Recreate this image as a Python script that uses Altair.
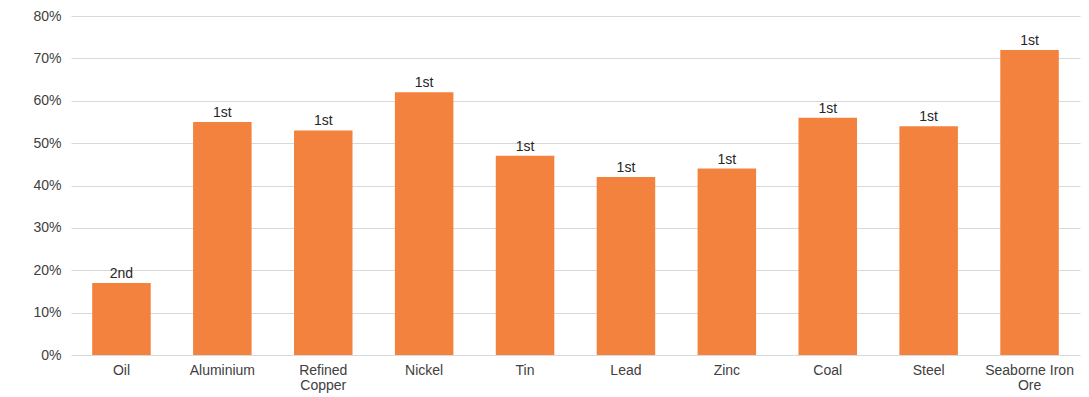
import altair as alt
import pandas as pd

categories = ["Oil", "Aluminium", "Refined\nCopper", "Nickel", "Tin", "Lead", "Zinc", "Coal", "Steel", "Seaborne Iron\nOre"]
shares = [0.17, 0.55, 0.53, 0.62, 0.47, 0.42, 0.44, 0.56, 0.54, 0.72]
ranks = ["2nd", "1st", "1st", "1st", "1st", "1st", "1st", "1st", "1st", "1st"]

df = pd.DataFrame({"cat": categories, "share": shares, "rank": ranks})

FONT = "Liberation Sans"
TXT = "#404040"

x = alt.X("cat:N", sort=categories, title=None,
          scale=alt.Scale(paddingInner=0.42, paddingOuter=0.21),
          axis=alt.Axis(labelAngle=0, labelExpr="split(datum.label, '\\n')",
                        labelFont=FONT, labelFontSize=14, labelColor=TXT,
                        labelPadding=8, labelLineHeight=15,
                        ticks=False, domain=False, grid=False))
y = alt.Y("share:Q", title=None,
          scale=alt.Scale(domain=[0, 0.8], nice=False),
          axis=alt.Axis(format=".0%", values=[0, .1, .2, .3, .4, .5, .6, .7, .8],
                        labelFont=FONT, labelFontSize=14, labelColor=TXT,
                        labelPadding=10, ticks=False, domain=False,
                        grid=True, gridColor="#d9d9d9", gridWidth=1))

base = alt.Chart(df).encode(x=x, y=y)
bars = base.mark_bar(color="#F4823F")
labels = base.mark_text(font=FONT, fontSize=14, color="#262626",
                        baseline="bottom", dy=-2).encode(text="rank:N")

chart = (bars + labels).properties(
    width=1009, height=339,
    background="white",
    autosize=alt.AutoSizeParams(type="none"),
    padding={"left": 71, "top": 16, "right": 9, "bottom": 42},
).configure_view(
    stroke="transparent", strokeWidth=0
).configure_axis(
    domain=False, ticks=False
).configure_axisX(grid=False)

chart.save("out.html", embed_options={"renderer": "svg", "actions": False})
